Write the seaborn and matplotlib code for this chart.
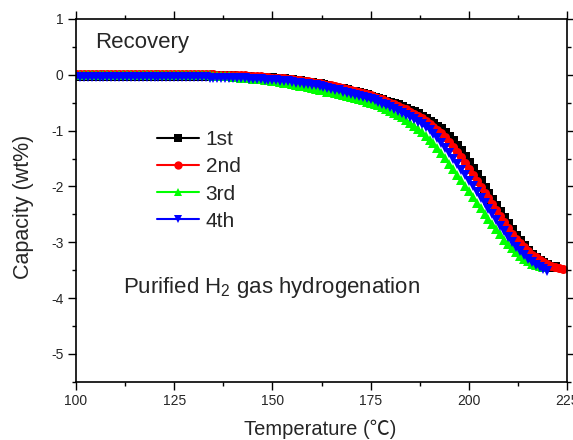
import numpy as np
import pandas as pd
import matplotlib
matplotlib.use("Agg")
import matplotlib.pyplot as plt
from matplotlib.ticker import MultipleLocator
import seaborn as sns

# capacity (wt%) read every 1 deg C, starting at 100 deg C
cap_1st = [-0.02] * 36 + [
    -0.03, -0.03, -0.03, -0.03,                                        # 136-139
    -0.03, -0.04, -0.04, -0.04, -0.04, -0.05, -0.05, -0.05, -0.05, -0.06,  # 140
    -0.06, -0.07, -0.07, -0.08, -0.09, -0.10, -0.11, -0.12, -0.13, -0.14,  # 150
    -0.15, -0.16, -0.17, -0.19, -0.20, -0.22, -0.23, -0.25, -0.26, -0.28,  # 160
    -0.30, -0.31, -0.33, -0.35, -0.37, -0.39, -0.41, -0.43, -0.45, -0.48,  # 170
    -0.50, -0.52, -0.55, -0.58, -0.61, -0.64, -0.67, -0.71, -0.75, -0.80,  # 180
    -0.84, -0.89, -0.93, -0.98, -1.04, -1.11, -1.19, -1.28, -1.37, -1.47,  # 190
    -1.58, -1.69, -1.80, -1.91, -2.02, -2.13, -2.24, -2.35, -2.46, -2.57,  # 200
    -2.68, -2.78, -2.88, -2.98, -3.07, -3.15, -3.22, -3.28, -3.33, -3.37,  # 210
    -3.41, -3.44, -3.45]                                                # 220

cap_2nd = [0.01] * 36 + [
    0.00, 0.00, 0.00, 0.00,                                            # 136-139
    -0.01, -0.01, -0.01, -0.01, -0.02, -0.02, -0.03, -0.03, -0.04, -0.04,  # 140
    -0.05, -0.05, -0.06, -0.06, -0.07, -0.08, -0.09, -0.10, -0.11, -0.12,  # 150
    -0.13, -0.14, -0.15, -0.16, -0.18, -0.19, -0.21, -0.22, -0.24, -0.25,  # 160
    -0.27, -0.29, -0.31, -0.33, -0.35, -0.37, -0.39, -0.41, -0.44, -0.47,  # 170
    -0.50, -0.53, -0.56, -0.59, -0.62, -0.66, -0.70, -0.74, -0.78, -0.83,  # 180
    -0.88, -0.93, -0.99, -1.05, -1.12, -1.20, -1.29, -1.38, -1.48, -1.58,  # 190
    -1.68, -1.79, -1.90, -2.01, -2.11, -2.20, -2.31, -2.42, -2.53, -2.64,  # 200
    -2.75, -2.85, -2.94, -3.02, -3.09, -3.16, -3.22, -3.27, -3.32, -3.36,  # 210
    -3.39, -3.42, -3.44, -3.46, -3.47]                                  # 220

cap_3rd = [0.00] * 31 + [
    -0.01, -0.01, -0.01, -0.01, -0.02, -0.02, -0.03, -0.03, -0.03,      # 131-139
    -0.04, -0.04, -0.05, -0.05, -0.06, -0.07, -0.08, -0.08, -0.09, -0.10,  # 140
    -0.11, -0.12, -0.13, -0.14, -0.15, -0.17, -0.18, -0.20, -0.21, -0.22,  # 150
    -0.24, -0.25, -0.27, -0.28, -0.30, -0.31, -0.33, -0.35, -0.36, -0.38,  # 160
    -0.40, -0.42, -0.44, -0.46, -0.48, -0.50, -0.52, -0.55, -0.58, -0.61,  # 170
    -0.64, -0.68, -0.72, -0.76, -0.81, -0.86, -0.91, -0.97, -1.03, -1.09,  # 180
    -1.16, -1.23, -1.31, -1.40, -1.49, -1.59, -1.69, -1.79, -1.89, -1.99,  # 190
    -2.09, -2.19, -2.29, -2.39, -2.49, -2.59, -2.68, -2.77, -2.86, -2.95,  # 200
    -3.03, -3.11, -3.18, -3.24, -3.30, -3.34, -3.38, -3.41, -3.43, -3.45]  # 210

cap_4th = [-0.04] * 34 + [
    -0.05, -0.05, -0.05, -0.05, -0.05, -0.05,                          # 134-139
    -0.06, -0.06, -0.06, -0.06, -0.07, -0.07, -0.08, -0.08, -0.09, -0.09,  # 140
    -0.10, -0.10, -0.11, -0.11, -0.12, -0.13, -0.14, -0.15, -0.16, -0.17,  # 150
    -0.18, -0.19, -0.21, -0.22, -0.24, -0.25, -0.27, -0.28, -0.30, -0.32,  # 160
    -0.34, -0.36, -0.38, -0.40, -0.42, -0.44, -0.46, -0.49, -0.52, -0.55,  # 170
    -0.58, -0.61, -0.64, -0.68, -0.72, -0.76, -0.80, -0.84, -0.89, -0.94,  # 180
    -0.99, -1.06, -1.14, -1.22, -1.31, -1.40, -1.50, -1.60, -1.70, -1.80,  # 190
    -1.90, -2.00, -2.10, -2.20, -2.30, -2.40, -2.50, -2.60, -2.70, -2.80,  # 200
    -2.90, -2.99, -3.08, -3.16, -3.23, -3.30, -3.36, -3.41, -3.45, -3.48,  # 210
    -3.51]                                                              # 220

runs = ["1st", "2nd", "3rd", "4th"]
colors = {"1st": "black", "2nd": "red", "3rd": "#00ff00", "4th": "blue"}
markers = {"1st": "s", "2nd": "o", "3rd": "^", "4th": "v"}

frames = []
for name, c in zip(runs, [cap_1st, cap_2nd, cap_3rd, cap_4th]):
    t = np.arange(100, 100 + len(c))
    frames.append(pd.DataFrame({"Temperature": t, "Capacity": c, "Run": name}))
df = pd.concat(frames, ignore_index=True)

sns.set_style("ticks")
plt.rcParams["font.family"] = ["Liberation Sans", "Noto Sans CJK SC", "DejaVu Sans"]
plt.rcParams["mathtext.default"] = "regular"
plt.rcParams["axes.unicode_minus"] = False

fig = plt.figure(figsize=(5.73, 4.40), dpi=100)
ax = fig.add_axes([0.1326, 0.132, 0.857, 0.825])

sns.lineplot(data=df, x="Temperature", y="Capacity", hue="Run", style="Run",
             palette=colors, markers=markers, dashes=False, estimator=None,
             sort=False, linewidth=1.5, markersize=6.5, markeredgewidth=0,
             ax=ax)

ax.set_xlim(100, 225)
ax.set_ylim(-5.5, 1)
ax.xaxis.set_major_locator(MultipleLocator(25))
ax.xaxis.set_minor_locator(MultipleLocator(12.5))
ax.yaxis.set_major_locator(MultipleLocator(1))
ax.yaxis.set_minor_locator(MultipleLocator(0.5))
ax.tick_params(which="both", direction="out", top=True, right=True,
               width=1, color="black", labelsize=10)
ax.tick_params(which="major", length=5.5)
ax.tick_params(which="minor", length=3)
for s in ax.spines.values():
    s.set_linewidth(1.2)
    s.set_color("black")

ax.set_xlabel("Temperature (\u2103)", fontsize=14.5)
ax.set_ylabel("Capacity (wt%)", fontsize=15.5)
ax.xaxis.set_label_coords(0.497, -0.104)
ax.yaxis.set_label_coords(-0.086, 0.482)

handles, labels = ax.get_legend_handles_labels()
for h in handles:
    h.set_markersize(6)
    h.set_linewidth(1.5)
ax.legend(handles, labels, loc="upper left", bbox_to_anchor=(0.149, 0.716),
          frameon=False, fontsize=15, handlelength=1.97, handletextpad=0.34,
          labelspacing=0.39, borderaxespad=0)

ax.text(0.039, 0.92, "Recovery", transform=ax.transAxes, fontsize=16,
        va="baseline", ha="left")
ax.text(112, -3.91, "Purified H$_2$ gas hydrogenation", fontsize=16,
        va="baseline", ha="left")

fig.savefig("out.png", dpi=100)
